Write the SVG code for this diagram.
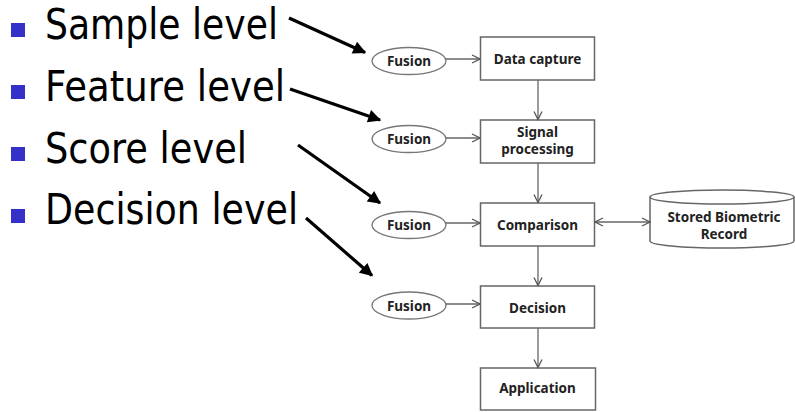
<svg xmlns="http://www.w3.org/2000/svg" width="795" height="412" viewBox="0 0 795 412">
<defs>
<marker id="open" viewBox="0 0 10 10" refX="9" refY="5" markerWidth="10" markerHeight="10" markerUnits="userSpaceOnUse" orient="auto-start-reverse">
<path d="M1,1 L9,5 L1,9" fill="none" stroke="#555" stroke-width="1.3"/>
</marker>
<marker id="solid" viewBox="0 0 10 10" refX="9" refY="5" markerWidth="15" markerHeight="13" markerUnits="userSpaceOnUse" orient="auto">
<path d="M0,0 L10,5 L0,10 z" fill="#000"/>
</marker>
<style>
.bul{fill:#3531c8}
.lvl{font-family:"DejaVu Sans","Liberation Sans",sans-serif;font-size:42px;fill:#000}
.box{fill:#fff;stroke:#666;stroke-width:1.5}
.ell{fill:#fff;stroke:#777;stroke-width:1.3}
.lbl{font-family:"Noto Sans","Open Sans",sans-serif;font-weight:bold;font-size:13.5px;fill:#222;text-anchor:middle}
.thin{fill:none;stroke:#666;stroke-width:1.3;marker-end:url(#open)}
.thick{fill:none;stroke:#000;stroke-width:3.2;marker-end:url(#solid)}
</style>
</defs>
<g id="bullets">
<rect class="bul" x="11" y="23" width="14" height="14"/>
<rect class="bul" x="11" y="85" width="14" height="14"/>
<rect class="bul" x="11" y="147" width="14" height="14"/>
<rect class="bul" x="11" y="209" width="14" height="14"/>
<text class="lvl" x="45" y="39" textLength="233" lengthAdjust="spacingAndGlyphs">Sample level</text>
<text class="lvl" x="45" y="101" textLength="240" lengthAdjust="spacingAndGlyphs">Feature level</text>
<text class="lvl" x="45" y="163" textLength="202" lengthAdjust="spacingAndGlyphs">Score level</text>
<text class="lvl" x="45" y="224" textLength="253" lengthAdjust="spacingAndGlyphs">Decision level</text>
</g>
<g id="fusion1"><ellipse class="ell" cx="409" cy="61" rx="37" ry="13.5"/><text class="lbl" x="409" y="66">Fusion</text></g>
<g id="fusion2"><ellipse class="ell" cx="409" cy="139" rx="37" ry="13.5"/><text class="lbl" x="409" y="144">Fusion</text></g>
<g id="fusion3"><ellipse class="ell" cx="409" cy="225" rx="37" ry="13.5"/><text class="lbl" x="409" y="230">Fusion</text></g>
<g id="fusion4"><ellipse class="ell" cx="409" cy="305.5" rx="37" ry="13.5"/><text class="lbl" x="409" y="310.5">Fusion</text></g>
<g id="datacapture"><rect class="box" x="480.5" y="37" width="114" height="43"/><text class="lbl" x="537.5" y="63.5">Data capture</text></g>
<g id="signal"><rect class="box" x="480.5" y="120" width="114" height="43"/><text class="lbl" x="537.5" y="137">Signal</text><text class="lbl" x="537.5" y="154">processing</text></g>
<g id="comparison"><rect class="box" x="480.5" y="203" width="114" height="43"/><text class="lbl" x="537.5" y="229.5">Comparison</text></g>
<g id="decision"><rect class="box" x="480.5" y="286" width="114" height="42"/><text class="lbl" x="537.5" y="312.5">Decision</text></g>
<g id="application"><rect class="box" x="480.5" y="368" width="115" height="42"/><text class="lbl" x="537.5" y="393">Application</text></g>
<g id="stored">
<path class="box" d="M650,197 L650,241 A72,7 0 0 0 794,241 L794,197"/>
<ellipse class="box" cx="722" cy="197" rx="72" ry="7"/>
<text class="lbl" x="724" y="222">Stored Biometric</text>
<text class="lbl" x="724" y="239">Record</text>
</g>
<g id="connectors">
<line class="thin" x1="446" y1="59" x2="480" y2="59"/>
<line class="thin" x1="446" y1="138" x2="480" y2="138"/>
<line class="thin" x1="446" y1="223" x2="480" y2="223"/>
<line class="thin" x1="446" y1="304" x2="480" y2="304"/>
<line class="thin" x1="538" y1="80" x2="538" y2="119.5"/>
<line class="thin" x1="538" y1="163" x2="538" y2="202.5"/>
<line class="thin" x1="538" y1="246" x2="538" y2="285.5"/>
<line class="thin" x1="538" y1="328" x2="538" y2="367.5"/>
<line class="thin" x1="595" y1="222" x2="650" y2="222" marker-start="url(#open)"/>
<line class="thick" x1="289" y1="18" x2="365" y2="52.5"/>
<line class="thick" x1="290" y1="89" x2="380" y2="120"/>
<line class="thick" x1="298" y1="145" x2="380" y2="203"/>
<line class="thick" x1="306" y1="218" x2="372" y2="275.5"/>
</g>
</svg>
